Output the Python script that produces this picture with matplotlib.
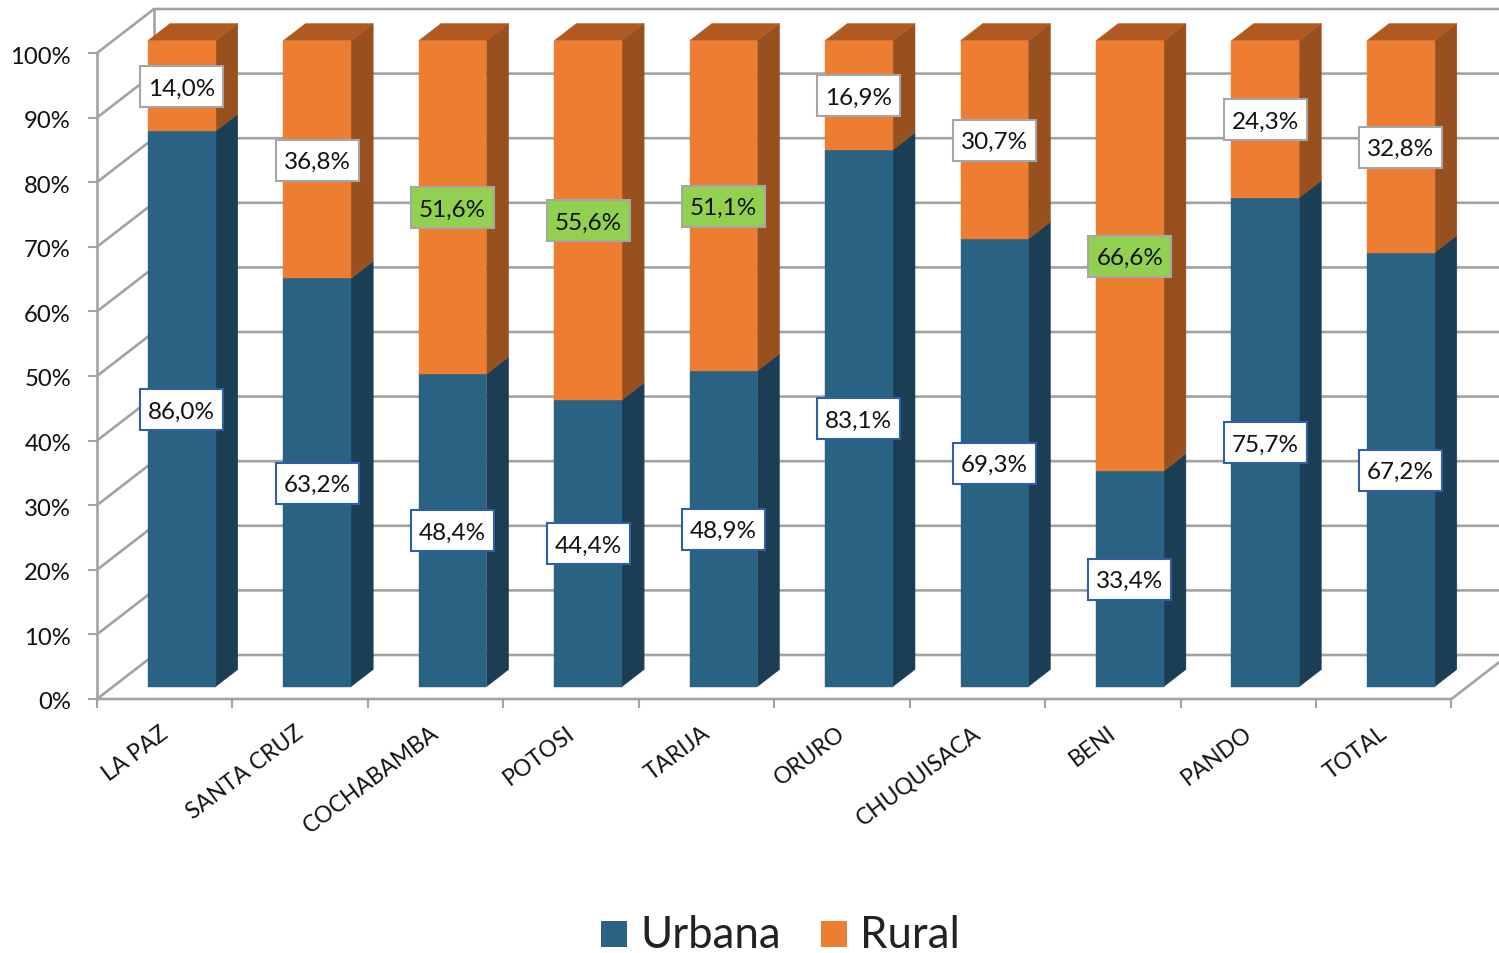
import matplotlib
matplotlib.use("Agg")
import matplotlib.pyplot as plt
from matplotlib.patches import Polygon, Rectangle

plt.rcParams['font.family'] = ['Lato', 'DejaVu Sans']

categories = ["LA PAZ", "SANTA CRUZ", "COCHABAMBA", "POTOSI", "TARIJA",
              "ORURO", "CHUQUISACA", "BENI", "PANDO", "TOTAL"]
urbana = [86.0, 63.2, 48.4, 44.4, 48.9, 83.1, 69.3, 33.4, 75.7, 67.2]
rural = [14.0, 36.8, 51.6, 55.6, 51.1, 16.9, 30.7, 66.6, 24.3, 32.8]
ticks = list(range(0, 101, 10))
series_names = ["Urbana", "Rural"]

W, H = 1499, 954
fig = plt.figure(figsize=(W / 100, H / 100), dpi=100)
ax = fig.add_axes([0, 0, 1, 1])
ax.set_xlim(0, W)
ax.set_ylim(H, 0)
ax.axis("off")

# projection of (category position, percent, depth 0..1) to canvas
X0, STEP = 97.0, 135.45
Y0, YSCALE = 700.0, 6.46
DX, DY = 57.0, -44.0


def P(c, v, d=0.0):
    return (X0 + c * STEP + d * DX, Y0 - v * YSCALE + d * DY)


GRID = "#a3a3a3"
n = len(categories)
# back wall and floor
for t in ticks:
    ax.plot(*zip(P(0, t, 0), P(0, t, 1), P(n, t, 1)), color=GRID, lw=1.9,
            solid_joinstyle="miter", zorder=1)
ax.plot(*zip(P(0, 0), P(0, 100)), color=GRID, lw=1.9, zorder=1)
ax.plot(*zip(P(0, 0, 1), P(0, 100, 1)), color=GRID, lw=1.9, zorder=1)
ax.plot(*zip(P(0, 0), P(n, 0), P(n, 0, 1)), color=GRID, lw=1.9, zorder=1)
for i in range(n + 1):
    ax.plot(*zip(P(i, 0), (P(i, 0)[0], P(i, 0)[1] + 8)), color=GRID, lw=1.5, zorder=1)
for t in ticks:
    x, y = P(0, t)
    ax.plot([x - 8, x], [y, y], color=GRID, lw=1.5, zorder=1)
    ax.text(71, y + 3, f"{t}%", ha="right", va="center", fontsize=17.2, color="#111111")

# bars
BW = 0.5
CX = 0.5074
D0, D1 = 0.28, 0.67
COL = {"u": ("#2a6283", "#1b3e55", "#2a6283"), "r": ("#ed7d31", "#98501f", "#b05a22")}


def bar(c, v0, v1, key, z):
    front, side, top = COL[key]
    l, r = c + CX - BW / 2, c + CX + BW / 2
    ax.add_patch(Polygon([P(r, v0, D0), P(r, v0, D1), P(r, v1, D1), P(r, v1, D0)],
                         fc=side, ec=side, lw=0.3, zorder=z))
    if key == "r":
        ax.add_patch(Polygon([P(l, v1, D0), P(r, v1, D0), P(r, v1, D1), P(l, v1, D1)],
                             fc=top, ec=top, lw=0.3, zorder=z))
    ax.add_patch(Rectangle(P(l, v0, D0), (r - l) * STEP, (v1 - v0) * -YSCALE,
                           fc=front, ec=front, lw=0.3, zorder=z + 0.1))


for i, u in enumerate(urbana):
    bar(i, 0, u, "u", 3)
    bar(i, u, 100, "r", 3)


def label(c, v, txt, fc, ec):
    x, y = P(c + CX, v, D0)
    ax.add_patch(Rectangle((x - 41.5, y - 20), 83, 41, fc=fc, ec=ec, lw=1.5, zorder=5))
    ax.text(x, y + 2, txt, ha="center", va="center", fontsize=17.5, color="#111111", zorder=6)


for i, (u, ru) in enumerate(zip(urbana, rural)):
    u_txt = f"{u:.1f}%".replace(".", ",")
    r_txt = f"{ru:.1f}%".replace(".", ",")
    label(i, u / 2, u_txt, "white", "#2f5fa8")
    label(i, u + (100 - u) / 2, r_txt, "#92d050" if ru > 50 else "white", "#a6a6a6")

# category labels
for i, name in enumerate(categories):
    x, y = P(i + 0.5, 0)
    ax.text(x + 1, y + 31, name, rotation=37, rotation_mode="anchor", ha="right", va="center",
            fontsize=16.4, color="#111111")

# legend
for xb, xt, name, c in [(601, 640, series_names[0], COL["u"][0]), (821, 860, series_names[1], COL["r"][0])]:
    ax.add_patch(Rectangle((xb, 922), 26, 26, fc=c, ec="none"))
    ax.text(xt, 936, name, ha="left", va="center", fontsize=31.5, color="#222222")

fig.savefig("out.png", dpi=100)
